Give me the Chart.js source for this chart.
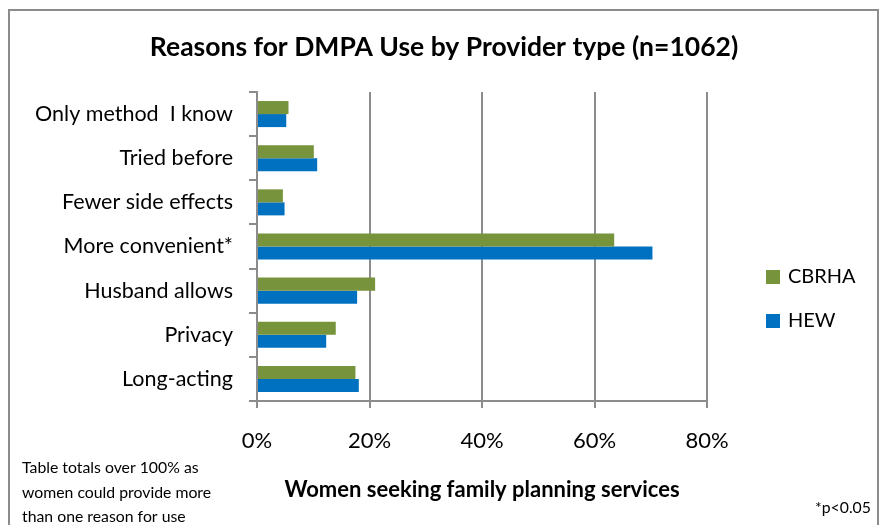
<!DOCTYPE html>
<html lang="en">
  <head>
    <meta charset="UTF-8" />
    <title>Reasons for DMPA Use by Provider type</title>
    <style>
      html, body { margin: 0; padding: 0; background: #fff; }
      .container { width: 882px; height: 525px; position: relative; }
    </style>
  </head>
  <body>
    <div class="container">
      <canvas id="myChart"></canvas>
    </div>
    <script src="https://cdn.jsdelivr.net/npm/chart.js@4.4.0/dist/chart.umd.min.js"></script>
    <script>
      const categories = [
        'Only method  I know',
        'Tried before',
        'Fewer side effects',
        'More convenient*',
        'Husband allows',
        'Privacy',
        'Long-acting',
      ];
      const cbrha = [5.6, 10.1, 4.6, 63.5, 21.0, 14.0, 17.5];
      const hew = [5.2, 10.7, 4.9, 70.3, 17.8, 12.3, 18.1];
      const xTicks = [0, 20, 40, 60, 80];

      const FONT = 'Lato';
      const GRAY = '#8c8c8c';

      // title, axis title, footnotes, legend and border drawn on the canvas
      const extras = {
        id: 'extras',
        afterDraw(chart) {
          const ctx = chart.ctx;
          const area = chart.chartArea;
          ctx.save();
          ctx.strokeStyle = GRAY;
          ctx.lineWidth = 2;
          ctx.strokeRect(9, 10, 869, 530);

          ctx.fillStyle = '#000';
          ctx.textBaseline = 'middle';
          ctx.textAlign = 'center';
          ctx.font = 'bold 26.5px ' + FONT;
          ctx.fillText('Reasons for DMPA Use by Provider type (n=1062)', 444, 47);

          ctx.font = 'bold 22px ' + FONT;
          ctx.fillText('Women seeking family planning services', (area.left + area.right) / 2, 490);

          ctx.textAlign = 'left';
          ctx.font = '15.8px ' + FONT;
          ctx.fillText('Table totals over 100% as', 22, 468);
          ctx.fillText('women could provide more', 22, 493);
          ctx.fillText('than one reason for use', 22, 517);
          ctx.fillText('*p<0.05', 815, 508);

          ctx.font = '20px ' + FONT;
          chart.data.datasets.forEach((ds, i) => {
            const y = 277 + i * 44;
            ctx.fillStyle = ds.backgroundColor;
            ctx.fillRect(766, y - 7, 14, 14);
            ctx.fillStyle = '#000';
            ctx.fillText(ds.label, 788, y);
          });
          ctx.restore();
        },
      };

      const data = {
        labels: categories,
        datasets: [
          {
            label: 'CBRHA',
            backgroundColor: '#77933C',
            data: cbrha,
          },
          {
            label: 'HEW',
            backgroundColor: '#0070C0',
            data: hew,
          },
        ],
      };

      const config = {
        type: 'bar',
        data: data,
        plugins: [extras],
        options: {
          indexAxis: 'y',
          animation: { duration: 0 },
          responsive: true,
          maintainAspectRatio: false,
          categoryPercentage: 0.59,
          barPercentage: 1.0,
          layout: { padding: { left: 0, right: 175, top: 92, bottom: 0 } },
          plugins: {
            legend: { display: false },
            title: { display: false },
            tooltip: { enabled: false },
          },
          scales: {
            x: {
              min: 0,
              max: 80,
              afterFit(scale) { scale.height = 124; },
              afterBuildTicks(scale) {
                scale.ticks = xTicks.map((v) => ({ value: v }));
              },
              grid: {
                color: GRAY,
                lineWidth: 2,
                drawTicks: true,
                tickLength: 7,
              },
              border: { display: true, color: GRAY, width: 2 },
              ticks: {
                padding: 20,
                color: '#000',
                font: { family: FONT, size: 22 },
                callback: (v) => v + '%',
              },
            },
            y: {
              afterFit(scale) { scale.width = 257; },
              grid: {
                drawOnChartArea: false,
                drawTicks: true,
                tickLength: 8,
                color: GRAY,
                lineWidth: 2,
              },
              border: { display: true, color: GRAY, width: 2 },
              ticks: {
                padding: 16,
                color: '#000',
                font: { family: FONT, size: 21.5 },
              },
            },
          },
        },
      };

      new Chart(document.getElementById('myChart'), config);
    </script>
  </body>
</html>
